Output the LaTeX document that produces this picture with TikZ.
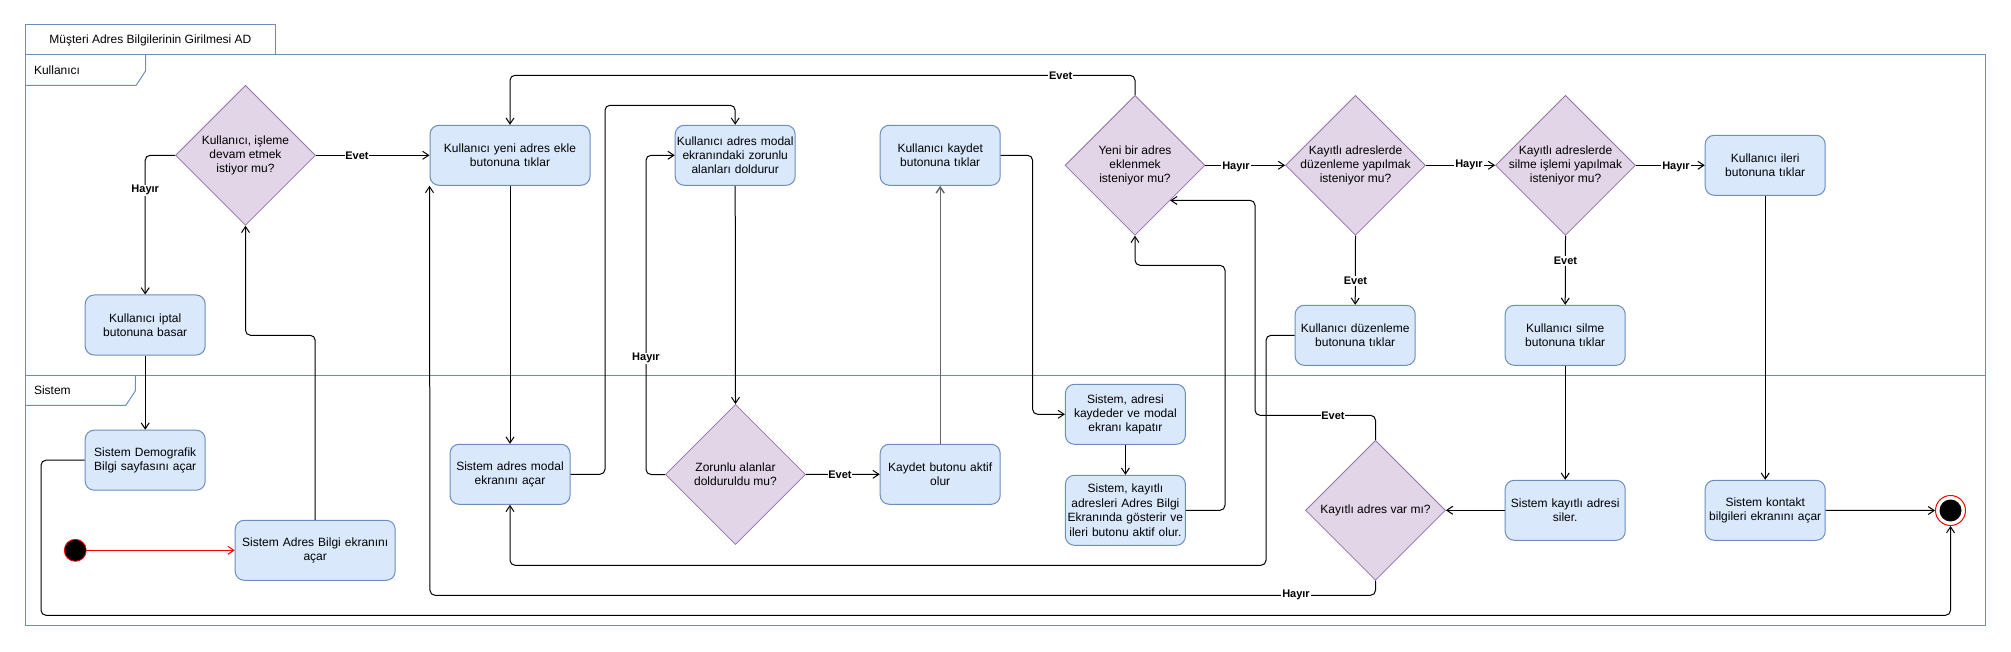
\documentclass[tikz,border=0pt]{standalone}
\usepackage{fontspec}
\setmainfont{Liberation Sans}
\usetikzlibrary{shapes.geometric,arrows.meta}
\definecolor{boxfill}{HTML}{DAE8FC}
\definecolor{boxstroke}{HTML}{6C8EBF}
\definecolor{diafill}{HTML}{E1D5E7}
\definecolor{diastroke}{HTML}{9673A6}
\definecolor{grayline}{HTML}{666666}
\tikzset{
  box/.style={draw=boxstroke, fill=boxfill, rounded corners=9pt, minimum width=120pt,
    minimum height=60pt, text width=118pt, align=center, inner sep=1pt, line width=1pt,
    font=\fontsize{12}{14.4}\selectfont},
  wbox/.style={box, minimum width=160pt, text width=158pt},
  tbox/.style={box, minimum height=70pt},
  dia/.style={draw=diastroke, fill=diafill, diamond, aspect=1, minimum width=140pt,
    minimum height=140pt, inner sep=0pt, line width=0.8pt},
  dtext/.style={align=center, inner sep=0pt, font=\fontsize{12}{14.4}\selectfont},
  flow/.style={draw=black, line width=1pt, rounded corners=5pt,
    -{Straight Barb[length=6pt,width=8pt]}},
  elabel/.style={fill=white, inner sep=0.8pt, font=\fontsize{11}{13}\selectfont\bfseries},
  frame/.style={draw=boxstroke, line width=1pt},
}
\begin{document}
\begin{tikzpicture}[x=1pt,y=-1pt]
\useasboundingbox (0,0) rectangle (2011,652);
% frame
\draw[frame, fill=white] (25.4,25) rectangle (275.4,55);
\node[font=\fontsize{12}{14.4}\selectfont] (title) at (150.4,40) {Müşteri Adres Bilgilerinin Girilmesi AD};
\draw[frame] (25.4,55) rectangle (1985.5,625.3);
\draw[frame] (25.4,375.3) -- (1985.5,375.3);
\draw[frame] (25.4,85.3) -- (136.2,85.3) -- (145.5,71) -- (145.5,55);
\draw[frame] (25.4,405.3) -- (125.9,405.3) -- (135.3,391) -- (135.3,375.3);
\node[anchor=west, font=\fontsize{12}{14.4}\selectfont] (lane1) at (30.5,70) {Kullanıcı};
\node[anchor=west, font=\fontsize{12}{14.4}\selectfont] (lane2) at (30.5,390) {Sistem};

% decision nodes
\node[dia] (d1) at (245.5,155.3) {};
\node[dtext] (d1t) at (d1) {Kullanıcı, işleme\\devam etmek\\istiyor mu?};
\node[dia] (d2) at (735.5,474.5) {};
\node[dtext] (d2t) at (d2) {Zorunlu alanlar\\dolduruldu mu?};
\node[dia] (d3) at (1135,165.3) {};
\node[dtext] (d3t) at (d3) {Yeni bir adres\\eklenmek\\isteniyor mu?};
\node[dia] (d4) at (1355.5,165.3) {};
\node[dtext] (d4t) at (d4) {Kayıtlı adreslerde\\düzenleme yapılmak\\isteniyor mu?};
\node[dia] (d5) at (1565.5,165.3) {};
\node[dtext] (d5t) at (d5) {Kayıtlı adreslerde\\silme işlemi yapılmak\\isteniyor mu?};
\node[dia] (d6) at (1375.5,510.3) {};
\node[dtext] (d6t) at (d6) {Kayıtlı adres var mı?};

% action nodes
\node[box] (iptal) at (145.2,325) {Kullanıcı iptal\\butonuna basar};
\node[box] (demo) at (145.2,460.2) {Sistem Demografik\\Bilgi sayfasını açar};
\node[wbox] (abilgi) at (315.2,550.3) {Sistem Adres Bilgi ekranını\\açar};
\node[wbox] (yeni) at (510,155.3) {Kullanıcı yeni adres ekle\\butonuna tıklar};
\node[box] (modal) at (510,474.3) {Sistem adres modal\\ekranını açar};
\node[box] (doldur) at (735.2,155.3) {Kullanıcı adres modal\\ekranındaki zorunlu\\alanları doldurur};
\node[box] (kaydet) at (940.2,155.3) {Kullanıcı kaydet\\butonuna tıklar};
\node[box] (aktif) at (940.2,474.3) {Kaydet butonu aktif\\olur};
\node[box] (kaydeder) at (1125.4,414.3) {Sistem, adresi\\kaydeder ve modal\\ekranı kapatır};
\node[tbox] (goster) at (1125.4,510.3) {Sistem, kayıtlı\\adresleri Adres Bilgi\\Ekranında gösterir ve\\ileri butonu aktif olur.};
\node[box] (duzen) at (1355.2,335.3) {Kullanıcı düzenleme\\butonuna tıklar};
\node[box] (silme) at (1565.2,335.3) {Kullanıcı silme\\butonuna tıklar};
\node[box] (ileri) at (1765.2,165.3) {Kullanıcı ileri\\butonuna tıklar};
\node[box] (siler) at (1565.2,510.3) {Sistem kayıtlı adresi\\siler.};
\node[box] (kontakt) at (1765.2,510.3) {Sistem kontakt\\bilgileri ekranını açar};

% start / end
\node[circle, draw=red, fill=black, minimum size=22pt, inner sep=0pt, line width=0.8pt] (start) at (75.3,550.3) {};
\node[circle, draw=red, fill=white, minimum size=30pt, inner sep=0pt, line width=1pt] (end) at (1950.5,510.5) {};
\node[circle, fill=black, minimum size=22pt, inner sep=0pt] (endin) at (end) {};

% connectors
\draw[flow, draw=red, -{Straight Barb[length=6pt,width=8pt,color=red]}] (start.east) -- (abilgi.west);
\draw[flow] (abilgi.north) -- (315.2,335.3) -- (245.5,335.3) -- (d1.south);
\draw[flow] (d1.east) -- (yeni.west);
\draw[flow] (d1.west) -- (145.2,155.3) -- (iptal.north);
\draw[flow] (iptal.south) -- (demo.north);
\draw[flow] (demo.west) -- (41,460.2) -- (41,615.3) -- (1950.5,615.3) -- (end.south);
\draw[flow] (yeni.south) -- (modal.north);
\draw[flow] (modal.east) -- (605,474.3) -- (605,105.3) -- (735.2,105.3) -- (doldur.north);
\draw[flow] (doldur.south) -- (d2.north);
\draw[flow] (d2.west) -- (646,474.5) -- (646,155.3) -- (doldur.west);
\draw[flow] (d2.east) -- (aktif.west);
\draw[flow, draw=grayline, line width=1.4pt] (aktif.north) -- (kaydet.south);
\draw[flow] (kaydet.east) -- (1032.6,155.3) -- (1032.6,414.3) -- (kaydeder.west);
\draw[flow] (kaydeder.south) -- (goster.north);
\draw[flow] (goster.east) -- (1225,510.3) -- (1225,265.3) -- (1135,265.3) -- (d3.south);
\draw[flow] (d3.north) -- (1135,75.3) -- (510,75.3) -- (yeni.north);
\draw[flow] (d3.east) -- (d4.west);
\draw[flow] (d4.east) -- (d5.west);
\draw[flow] (d5.east) -- (ileri.west);
\draw[flow] (d4.south) -- (duzen.north);
\draw[flow] (d5.south) -- (silme.north);
\draw[flow] (duzen.west) -- (1266,335.3) -- (1266,565.3) -- (510,565.3) -- (modal.south);
\draw[flow] (silme.south) -- (siler.north);
\draw[flow] (siler.west) -- (d6.east);
\draw[flow] (d6.north) -- (1375.5,415.3) -- (1255,415.3) -- (1255,200.3) -- (d3.south east);
\draw[flow] (d6.south) -- (1375.5,595.3) -- (430,595.3) -- (yeni.south west);
\draw[flow] (ileri.south) -- (kontakt.north);
\draw[flow] (kontakt.east) -- (end.west);

% edge labels
\node[elabel] (l1) at (357,155.3) {Evet};
\node[elabel] (l2) at (145.2,190.3) {Hayır};
\node[elabel] (l3) at (646,358.3) {Hayır};
\node[elabel] (l4) at (840,474.4) {Evet};
\node[elabel] (l5) at (1060.7,75.3) {Evet};
\node[elabel] (l6) at (1236,166.5) {Hayır};
\node[elabel] (l7) at (1469,165.3) {Hayır};
\node[elabel] (l8) at (1676,166.5) {Hayır};
\node[elabel] (l9) at (1355.5,281) {Evet};
\node[elabel] (l10) at (1565.5,261) {Evet};
\node[elabel] (l11) at (1333,415.3) {Evet};
\node[elabel] (l12) at (1296,595.3) {Hayır};
\end{tikzpicture}
\end{document}
